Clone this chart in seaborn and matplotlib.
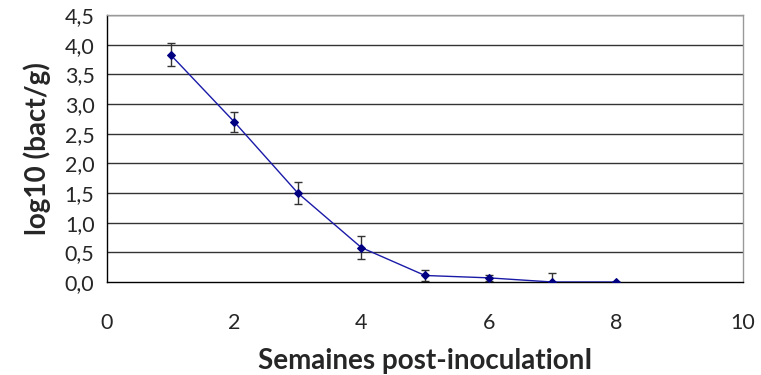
import matplotlib
matplotlib.use("Agg")
import matplotlib.pyplot as plt
import seaborn as sns
import pandas as pd

weeks = [1, 2, 3, 4, 5, 6, 7, 8]
log_bact = [3.83, 2.70, 1.50, 0.58, 0.11, 0.07, 0.0, 0.0]
err = [0.19, 0.17, 0.19, 0.20, 0.10, 0.05, 0.15, 0.0]
y_ticks = [0.0, 0.5, 1.0, 1.5, 2.0, 2.5, 3.0, 3.5, 4.0, 4.5]
y_tick_labels = ["0,0", "0,5", "1,0", "1,5", "2,0", "2,5", "3,0", "3,5", "4,0", "4,5"]
x_ticks = [0, 2, 4, 6, 8, 10]

sns.set_style("white")
plt.rcParams["font.family"] = ["Lato", "DejaVu Sans"]

df = pd.DataFrame({"week": weeks, "val": log_bact, "err": err})

fig = plt.figure(figsize=(7.61, 3.75), dpi=100)
ax = fig.add_axes([0.1406, 0.248, 0.8357, 0.712])

for yv in y_ticks[1:]:
    ax.axhline(yv, color="#333333", lw=1.0, zorder=1)

ax.errorbar(df["week"], df["val"], yerr=df["err"], fmt="none", ecolor="#333333",
            elinewidth=1.0, capsize=3, capthick=1.0, zorder=2)
sns.lineplot(data=df, x="week", y="val", ax=ax, color="#1a1aa8", lw=1.0,
             marker="D", markersize=4.5, markerfacecolor="#000080",
             markeredgecolor="#000080", zorder=3)

ax.set_xlim(0, 10)
ax.set_ylim(0, 4.5)
ax.set_xticks(x_ticks)
ax.set_xticklabels([str(t) for t in x_ticks], fontsize=15.5)
ax.set_yticks(y_ticks)
ax.set_yticklabels(y_tick_labels, fontsize=15.5)
ax.tick_params(axis="both", direction="out", length=5, width=1, color="black", pad=4)
ax.tick_params(axis="x", pad=17)

for s in ["left", "bottom"]:
    ax.spines[s].set_color("black")
    ax.spines[s].set_linewidth(1.0)
for s in ["right", "top"]:
    ax.spines[s].set_color("#999999")
    ax.spines[s].set_linewidth(1.0)

ax.set_xlabel("Semaines post-inoculationI", fontsize=20, fontweight="bold", labelpad=11)
ax.set_ylabel("log10 (bact/g)", fontsize=20, fontweight="bold", labelpad=10)

fig.savefig("out.png", dpi=100)
